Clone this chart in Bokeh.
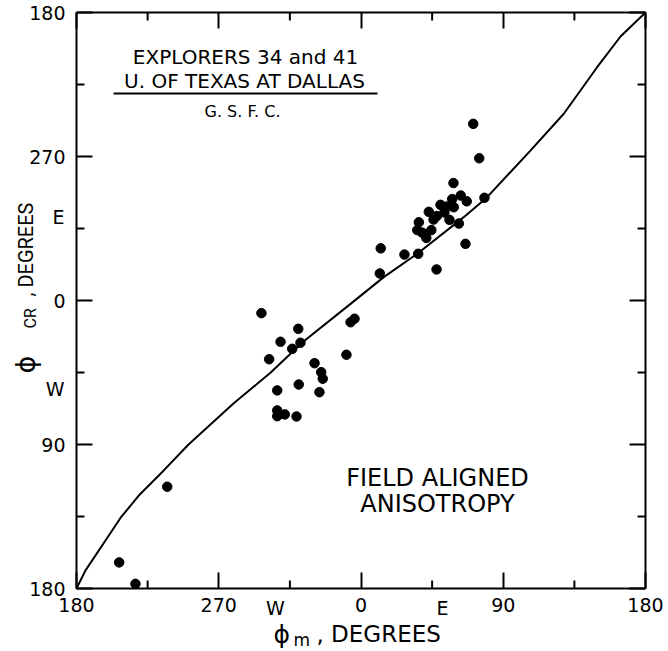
from bokeh.plotting import figure
from bokeh.models import FixedTicker, LinearAxis, Label, Range1d
from bokeh.embed import file_html
from bokeh.resources import INLINE

# ---- data (degrees; axes run 180 -> 180 through 0, drawn as -180..180) ----
phi_m = [-63.0, -39.7, -50.9, -38.3, -43.5, -58.1, -29.4, -25.2, -24.2, -9.2,
         -6.6, -4.1, -53.0, -39.4, -26.3, -53.0, -53.0, -48.2, -40.8,
         -122.6, -153.0, -142.7,
         71.0, 74.8, 58.5, 63.1, 66.9, 78.1, 57.7, 50.3, 54.1, 58.7, 42.9,
         48.0, 45.9, 36.6, 56.0, 61.9, 35.6, 38.7, 44.5, 41.3, 66.1, 12.5,
         27.5, 36.2, 47.8, 11.9, 52.8]
phi_cr = [-7.9, -17.7, -25.8, -26.4, -30.2, -36.7, -39.2, -44.8, -48.9, -33.9,
          -13.6, -11.4, -56.2, -52.5, -57.3, -68.7, -72.3, -71.2, -72.5,
          -116.4, -163.7, -177.1,
          110.4, 88.9, 73.4, 65.6, 62.0, 64.2, 63.4, 59.8, 58.7, 58.3, 55.4,
          52.8, 50.6, 48.9, 50.4, 48.1, 44.0, 42.4, 44.0, 39.1, 35.4, 32.6,
          28.7, 29.2, 19.4, 16.9, 55.0]

curve_m = [-180.0, -174.3, -160.6, -152.2, -140.6, -124.8, -109.1, -80.7, -57.3,
           -36.4, -6.6, 14.4, 35.6, 65.0, 79.8, 107.2, 128.3, 149.4, 164.2, 180.0]
curve_cr = [-180.0, -168.7, -148.4, -135.9, -121.9, -106.2, -90.0, -64.4, -45.2,
            -25.6, -2.1, 14.6, 29.2, 52.1, 64.6, 93.7, 116.7, 145.8, 165.0, 180.0]

major_ticks = [-180, -90, 0, 90, 180]
minor_ticks = [-135, -45, 45, 135]
x_tick_labels = ["180", "270", "0", "90", "180"]
y_tick_labels = ["180", "90", "0", "270", "180"]

FONT = "DejaVu Sans"

# ---- layout: the data box spans px 76..645 (x) and 12..588 (y) of the canvas ----
W, H = 666, 651
BOX_L, BOX_R, BOX_T, BOX_B = 76, 645, 12, 588
SX = (BOX_R - BOX_L) / 360.0
SY = (BOX_B - BOX_T) / 360.0
MINOR_LEN = 8  # px

p = figure(width=W, height=H, min_border=0,
           x_range=Range1d(-180 - BOX_L / SX, 180 + (W - BOX_R) / SX),
           y_range=Range1d(-180 - (H - BOX_B) / SY, 180 + BOX_T / SY),
           x_axis_type=None, y_axis_type=None,
           output_backend="svg", toolbar_location=None,
           background_fill_color="white", border_fill_color="white")
p.xgrid.visible = False
p.ygrid.visible = False
p.outline_line_color = None


def make_axis(fixed, labels=None):
    ax = LinearAxis(fixed_location=fixed, bounds=(-180, 180))
    ax.ticker = FixedTicker(ticks=major_ticks, minor_ticks=[])
    ax.major_tick_in = 16
    ax.major_tick_out = 0
    ax.minor_tick_line_color = None
    ax.axis_line_width = 2
    ax.axis_line_color = "black"
    ax.major_tick_line_width = 2
    ax.major_tick_line_color = "black"
    if labels is not None:
        ax.major_label_overrides = {t: l for t, l in zip(major_ticks, labels)}
        ax.major_label_text_font = FONT
        ax.major_label_text_font_size = "19px"
        ax.major_label_text_color = "black"
    else:
        ax.major_label_overrides = {t: "" for t in major_ticks}
        ax.major_label_text_font_size = "0px"
        ax.major_label_standoff = 0
    return ax


bottom_axis = make_axis(-180, x_tick_labels)
bottom_axis.major_label_standoff = 9
p.add_layout(bottom_axis, "below")
left_axis = make_axis(-180, y_tick_labels)
left_axis.major_label_standoff = 11
p.add_layout(left_axis, "left")
p.add_layout(make_axis(180), "above")
p.add_layout(make_axis(180), "right")

# short intermediate ticks on all four sides (inward)
dy = MINOR_LEN / SY
dx = MINOR_LEN / SX
tick_xs, tick_ys = [], []
for t in minor_ticks:
    tick_xs += [[t, t], [t, t], [-180.0, -180.0 + dx], [180.0, 180.0 - dx]]
    tick_ys += [[-180.0, -180.0 + dy], [180.0, 180.0 - dy], [t, t], [t, t]]
p.multi_line(xs=tick_xs, ys=tick_ys, line_color="black", line_width=2)

# curve and points
p.line(curve_m, curve_cr, line_color="black", line_width=2)
p.scatter(phi_m, phi_cr, size=9.5, color="black")


def px_x(px):
    return (px - BOX_L) / SX - 180


def px_y(py):
    return 180 - (py - BOX_T) / SY


def lab(text, px, py, size, align="center", angle=0, font=FONT):
    p.add_layout(Label(x=px_x(px), y=px_y(py), text=text,
                       text_font=font, text_font_size=size, text_color="black",
                       text_align=align, text_baseline="middle",
                       angle=angle, angle_units="deg"))


# compass tick labels
lab("W", 275, 607, "19px")
lab("E", 442, 607, "19px")
lab("E", 64, 216, "19px", align="right")
lab("W", 64, 388, "19px", align="right")

# axis titles
lab("ϕ", 273, 634, "25px", align="left")
lab("m", 293, 639, "17px", align="left")
lab(", DEGREES", 316, 633, "23px", align="left")

lab("ϕ", 25, 373, "27px", align="left", angle=90)
lab("CR", 30, 328, "16px", align="left", angle=90, font="Roboto")
lab(", DEGREES", 25, 296, "20px", align="left", angle=90, font="Roboto")

# notes
lab("EXPLORERS 34 and 41", 245, 56, "20px")
lab("U. OF TEXAS AT DALLAS", 244, 80, "20px")
p.line([px_x(113), px_x(377)], [px_y(93), px_y(93)], line_color="black", line_width=2)
lab("G. S. F. C.", 242, 111, "16px")
lab("FIELD ALIGNED", 437, 477, "24px")
lab("ANISOTROPY", 437, 503, "24px")

open("out.html", "w").write(file_html(p, INLINE))
